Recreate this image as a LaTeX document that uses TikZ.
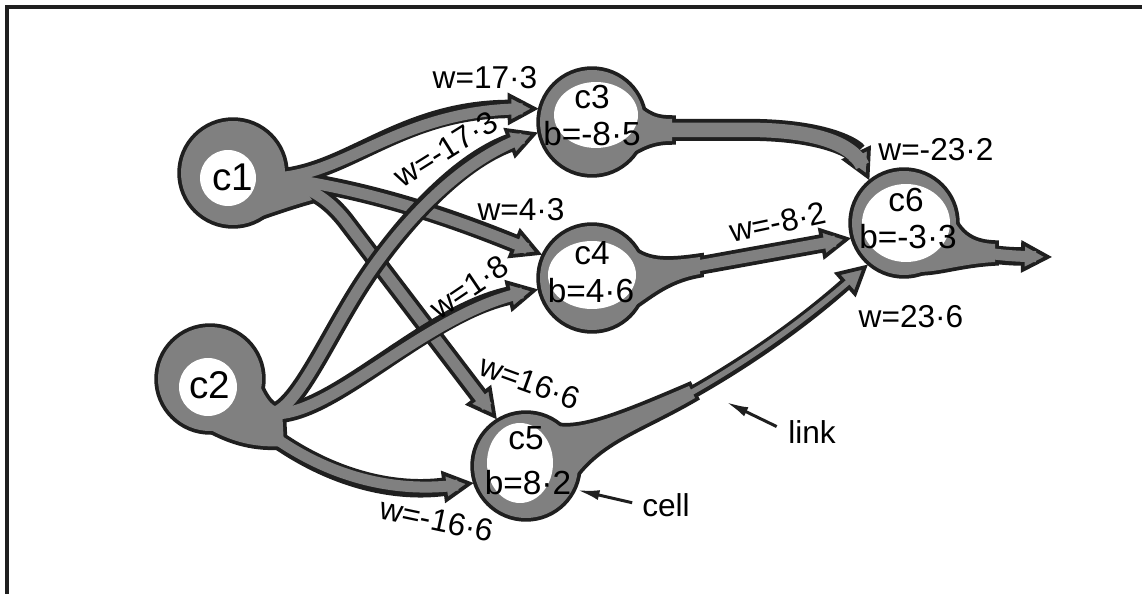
\documentclass[tikz,border=0pt]{standalone}
\usepackage{fontspec}
\setmainfont{Liberation Sans}
\usetikzlibrary{arrows.meta}

\definecolor{ink}{gray}{0.12}
\definecolor{dots}{gray}{0.5}

% necks where a cell runs into its links
\newcommand{\necka}{(268,150) .. controls (280,172) and (288,181) .. (300,182) -- (312,200) .. controls (290,206) and (268,214) .. (250,220) -- cycle}
\newcommand{\neckb}{(250,360) .. controls (262,395) and (270,408) .. (282,408) -- (284,446) .. controls (255,448) and (232,442) .. (207,428) -- cycle}
\newcommand{\neckc}{(625,95) .. controls (645,112) and (650,119) .. (672,119) -- (672,141) .. controls (650,141) and (640,148) .. (620,160) -- cycle}
\newcommand{\neckd}{(628,245) .. controls (645,262) and (665,262) .. (700,257) -- (700,274) .. controls (665,280) and (648,298) .. (628,310) -- cycle}
\newcommand{\necke}{(545,422) .. controls (570,435) and (610,420) .. (689,386) -- (695,398) .. controls (640,430) and (600,440) .. (572,480) -- cycle}
\newcommand{\neckf}{(945,200) .. controls (955,228) and (965,243) .. (995,244) -- (995,262) .. controls (960,264) and (940,272) .. (918,272) -- cycle}

\begin{document}
\begin{tikzpicture}[
    x=0.02cm, y=-0.02cm,
    cellnode/.style={circle, minimum size=2.2cm, inner sep=0pt, outer sep=0pt},
    rim/.style={draw=ink, fill=ink, line width=0.15cm},
    body/.style={fill=dots},
    hole/.style={fill=white},
    tube/.style={draw=ink, line width=0.37cm, -{Triangle[length=0.62cm 0 0, width=0.64cm 0 0, line width=0.075cm 0 0, fill=dots]}},
    core/.style={draw=dots, line width=0.22cm, shorten >=0.32cm},
    wlabel/.style={font=\fontsize{18}{20}\selectfont, inner sep=0pt},
    clabel/.style={font=\fontsize{19}{21}\selectfont, inner sep=0pt},
    pointer/.style={draw=ink, line width=0.06cm, -{Latex[length=0.45cm 0 0, width=0.2cm 0 0]}},
    edgeline/.style={draw=ink, line width=0.08cm}
]
    \useasboundingbox (0,0) rectangle (1142,594);

    % Frame (only top and left edges fall on the page)
    \draw[edgeline] (1142,7) -- (7,7) -- (7,594);

    % Cells
    \node[cellnode] (c1) at (233,173) {};
    \node[cellnode] (c2) at (210,379) {};
    \node[cellnode] (c3) at (592,122) {};
    \node[cellnode] (c4) at (592,278) {};
    \node[cellnode] (c5) at (526,466) {};
    \node[cellnode] (c6) at (904,223) {};
    \coordinate (exit) at (1052,257);

    % Black rims of cells and necks
    \foreach \i in {1,...,6}
        \draw[rim] (c\i.center) circle[radius=1.04cm];
    \draw[rim] \necka;
    \draw[rim] \neckb;
    \draw[rim] \neckc;
    \draw[rim] \neckd;
    \draw[rim] \necke;
    \draw[rim] \neckf;

    % Links from c1
    \foreach \s in {tube,core} {
        \draw[\s] (c1.center) .. controls (330,200) and (380,110) .. (c3.166);
        \draw[\s] (c1.center) .. controls (330,180) and (420,205) .. (c4.155);
        \draw[\s] (c1.center) .. controls (300,178) and (325,195) .. (345,220) -- (c5.122);
    }
    \fill[body] (c1.center) circle[radius=1.04cm];
    \fill[body] \necka;
    \fill[hole] (228,178) circle[radius=0.56cm];

    % Links from c2
    \foreach \s in {tube,core} {
        \draw[\s] (c2.center) -- (262,412) .. controls (290,425) and (320,350) .. (360,287)
                              .. controls (390,240) and (450,165) .. (c3.191);
        \draw[\s] (c2.center) -- (262,412) .. controls (320,430) and (420,315) .. (c4.192);
        \draw[\s] (c2.center) .. controls (290,470) and (380,495) .. (c5.198);
    }
    \fill[body] (c2.center) circle[radius=1.04cm];
    \fill[body] \neckb;
    \fill[hole] (208,387) circle[radius=0.58cm];

    % Links into c6
    \draw[tube, line width=0.44cm] (c3.center) ++(0,8) -- (760,130) .. controls (830,132) and (855,150) .. (c6.129);
    \draw[core, line width=0.29cm] (c3.center) ++(0,8) -- (760,130) .. controls (830,132) and (855,150) .. (c6.129);
    \fill[body] (c3.center) circle[radius=1.04cm];
    \fill[body] \neckc;
    \fill[hole] (596,115) ellipse[x radius=0.84cm, y radius=0.66cm];

    \draw[tube] (c4.center) ++(0,7) -- (c6.196);
    \draw[core] (c4.center) ++(0,7) -- (c6.196);
    \fill[body] (c4.center) circle[radius=1.04cm];
    \fill[body] \neckd;
    \fill[hole] (592,275) ellipse[x radius=0.88cm, y radius=0.68cm];

    \draw[tube, line width=0.26cm] (c5.center) .. controls (640,430) and (760,360) .. (c6.229);
    \draw[core, line width=0.11cm] (c5.center) .. controls (640,430) and (760,360) .. (c6.229);
    \fill[body] (c5.center) circle[radius=1.04cm];
    \fill[body] \necke;
    \fill[hole] (520,463) ellipse[x radius=0.66cm, y radius=0.8cm];

    % Output of c6
    \draw[tube] (c6.center) .. controls (950,250) and (990,256) .. (exit);
    \draw[core] (c6.center) .. controls (950,250) and (990,256) .. (exit);
    \fill[body] (c6.center) circle[radius=1.04cm];
    \fill[body] \neckf;
    \fill[hole] (906,223) ellipse[x radius=0.88cm, y radius=0.78cm];

    % Cell texts
    \node[clabel, font=\fontsize{22}{24}\selectfont] (n1) at (233,177) {c1};
    \node[clabel, font=\fontsize{22}{24}\selectfont] (n2) at (210,385) {c2};
    \node[clabel] (n3) at (592,97) {c3};
    \node[clabel] (b3) at (592,134) {b=-8·5};
    \node[clabel] (n4) at (592,253) {c4};
    \node[clabel] (b4) at (591,291) {b=4·6};
    \node[clabel] (n5) at (526,438) {c5};
    \node[clabel] (b5) at (528,483) {b=8·2};
    \node[clabel] (n6) at (906,200) {c6};
    \node[clabel] (b6) at (908,237) {b=-3·3};

    % Weights
    \node[wlabel] (w13) at (485,78) {w=17·3};
    \node[wlabel, rotate=32] (w23) at (446,149) {w=-17·3};
    \node[wlabel] (w14) at (521,210) {w=4·3};
    \node[wlabel, rotate=34] (w24) at (469,287) {w=1·8};
    \node[wlabel, rotate=-20] (w15) at (530,382) {w=16·6};
    \node[wlabel, rotate=-12] (w25) at (437,520) {w=-16·6};
    \node[wlabel] (w36) at (936,150) {w=-23·2};
    \node[wlabel, rotate=12] (w46) at (778,222) {w=-8·2};
    \node[wlabel] (w56) at (911,317) {w=23·6};

    % Pointers
    \node[wlabel] (lnk) at (812,432) {link};
    \coordinate (linktip) at (726,402);
    \draw[pointer, shorten <=0.25cm] (lnk.west) -- (linktip);
    \node[wlabel] (cel) at (666,505) {cell};
    \coordinate (celltip) at (577,490);
    \draw[pointer, shorten <=0.2cm] (cel.west) -- (celltip);
\end{tikzpicture}
\end{document}
